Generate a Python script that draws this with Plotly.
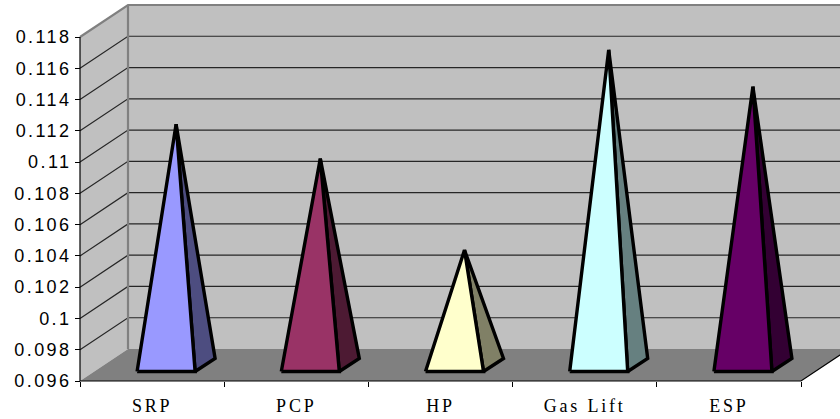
import plotly.graph_objects as go

categories = ["SRP", "PCP", "HP", "Gas Lift", "ESP"]
values = [0.1114, 0.1092, 0.10335, 0.11615, 0.1138]
front_colors = ["#9999FF", "#993366", "#FFFFCC", "#CCFFFF", "#660066"]
side_colors = ["#4D4D80", "#4D1A33", "#808066", "#668080", "#330033"]
y_ticks = [0.096, 0.098, 0.1, 0.102, 0.104, 0.106, 0.108, 0.11, 0.112, 0.114, 0.116, 0.118]
y_labels = ["0.096", "0.098", "0.1", "0.102", "0.104", "0.106", "0.108", "0.11", "0.112", "0.114", "0.116", "0.118"]

YMIN, YMAX = y_ticks[0], y_ticks[-1]
N = len(categories)
W, H = 840, 419
L, R, T, B = 80, 801, 37, 381
PX = (R - L) / N                       # pixels per category
PY = (B - T) / (YMAX - YMIN)           # pixels per value unit
DX = 48 / PX                           # depth offset, x data units
DY = 32 / PY                           # depth offset, y data units
HALF = 29 / PX                         # pyramid half width
BX, BY = 10 / PX, 6.5 / PY             # pyramid half depth

WALL, FLOOR, EDGE = "#C0C0C0", "#808080", "#808080"

fig = go.Figure()


def add(xs, ys, fill=None, color="black", width=1):
    fig.add_trace(go.Scatter(
        x=xs, y=ys, mode="lines", hoverinfo="skip", showlegend=False,
        line=dict(color=color, width=width),
        fill="toself" if fill else None, fillcolor=fill,
    ))


# back wall, side wall, floor
add([DX, N + DX, N + DX, DX, DX], [YMIN + DY, YMIN + DY, YMAX + DY, YMAX + DY, YMIN + DY], fill=WALL, color="rgba(0,0,0,0)", width=0)
add([0, DX, DX, 0, 0], [YMIN, YMIN + DY, YMAX + DY, YMAX, YMIN], fill=WALL, color="rgba(0,0,0,0)", width=0)
add([0, N, N + DX, DX, 0], [YMIN, YMIN, YMIN + DY, YMIN + DY, YMIN], fill=FLOOR, color="rgba(0,0,0,0)", width=0)

# gridlines
for v in y_ticks[1:-1]:
    add([0, DX, N + DX], [v, v + DY, v + DY], color="#262626", width=1.2)

# wall edges
add([0, DX, N + DX], [YMAX, YMAX + DY, YMAX + DY], color=EDGE, width=2.2)
add([DX, DX], [YMIN + DY, YMAX + DY], color=EDGE, width=2.2)

# axis lines
add([0, 0, N, N + DX], [YMAX, YMIN, YMIN, YMIN + DY], color="black", width=1.2)

# pyramids
for i, v in enumerate(values):
    cx = i + 0.5 + DX / 2
    cy = YMIN + DY / 2
    ay = v + DY / 2
    add([cx + HALF - BX, cx + HALF + BX, cx, cx + HALF - BX],
        [cy - BY, cy + BY, ay, cy - BY], fill=side_colors[i], width=3.4)
    add([cx - HALF - BX, cx + HALF - BX, cx, cx - HALF - BX],
        [cy - BY, cy - BY, ay, cy - BY], fill=front_colors[i], width=3.4)

fig.update_layout(
    width=W, height=H, autosize=False,
    margin=dict(l=0, r=0, t=0, b=0, pad=0),
    paper_bgcolor="white", plot_bgcolor="rgba(0,0,0,0)",
    showlegend=False,
    xaxis=dict(
        range=[-L / PX, (W - L) / PX], domain=[0, 1], anchor="free", position=(H - B) / H,
        automargin=False, showgrid=False, zeroline=False, showline=False,
        tickmode="array", tickvals=[i + 0.5 for i in range(N)], ticktext=categories,
        ticks="", ticklabelstandoff=12,
        tickfont=dict(family="Liberation Serif", size=18, color="black"),
        minor=dict(tickmode="array", tickvals=list(range(N + 1)), ticks="outside", ticklen=5,
                   tickwidth=1, tickcolor="black", showgrid=False),
    ),
    yaxis=dict(
        range=[YMIN - (H - B) / PY, YMAX + T / PY], domain=[0, 1], anchor="free", position=L / W,
        automargin=False, showgrid=False, zeroline=False, showline=False,
        tickmode="array", tickvals=y_ticks, ticktext=y_labels,
        ticks="outside", ticklen=5, tickwidth=1, tickcolor="black",
        tickfont=dict(family="Liberation Sans", size=18, color="black"),
    ),
)

post = """
document.body.style.margin='0';
document.body.style.overflow='hidden';
var s=document.createElement('style');
s.textContent='.ytick text{letter-spacing:2.4px}.xtick text{letter-spacing:2.8px}';
document.head.appendChild(s);
"""
fig.write_html("out.html", post_script=post, config={"displayModeBar": False})
